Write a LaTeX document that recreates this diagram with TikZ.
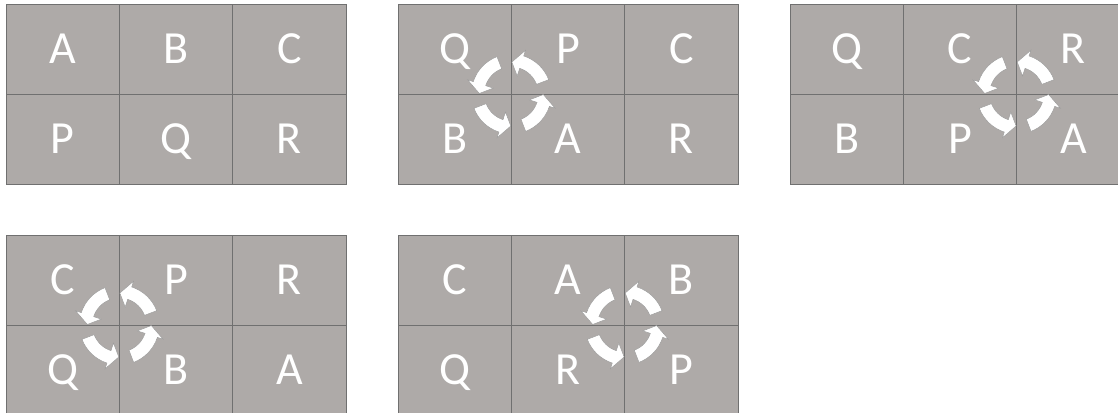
\documentclass[tikz,border=0pt]{standalone}
\usepackage{fontspec}
\setmainfont{Carlito}
\usepackage{tikz}
\usetikzlibrary{positioning,calc}
\usepackage{xcolor}
\definecolor{cellgray}{RGB}{174,170,168}
\definecolor{linegray}{RGB}{112,112,112}
\definecolor{arrowedge}{RGB}{150,150,150}

\tikzset{
  cell/.style={draw=linegray, line width=0.7pt, fill=cellgray, minimum width=113.33pt,
    minimum height=90pt, inner sep=0pt, outer sep=0pt, text=white,
    font=\fontsize{46}{50}\selectfont, text height=29.6pt, text depth=0pt},
  swaparrow/.style={fill=white, draw=arrowedge, line width=0.4pt}
}

% six cells: top row #4 #5 #6, bottom row #7 #8 #9
\newcommand{\cellgrid}[9]{%
  \node[cell, anchor=north west] (#1-1) at (#2,#3) {#4};
  \node[cell, right=0pt of #1-1] (#1-2) {#5};
  \node[cell, right=0pt of #1-2] (#1-3) {#6};
  \node[cell, below=0pt of #1-1] (#1-4) {#7};
  \node[cell, right=0pt of #1-4] (#1-5) {#8};
  \node[cell, right=0pt of #1-5] (#1-6) {#9};
}

% four curved arrows round a corner point
\newcommand{\rotarrows}[1]{%
  \begin{scope}[shift={(#1)}]
    \foreach \r in {0,90,180,270}
      \path[swaparrow, rotate=\r] (21:27pt) arc[start angle=21, end angle=72, radius=27pt]
        -- (72:19pt) -- (89:32pt) -- (72:46pt) -- (72:40pt)
        arc[start angle=72, end angle=21, radius=40pt] -- cycle;
  \end{scope}
}

\begin{document}
\begin{tikzpicture}[x=1pt, y=-1pt]
\useasboundingbox (0,0) rectangle (1118,412);
\clip (0,0) rectangle (1118,412);

\cellgrid{ga}{6}{4}{A}{B}{C}{P}{Q}{R}
\cellgrid{gb}{398}{4}{Q}{P}{C}{B}{A}{R}
\cellgrid{gc}{790}{4}{Q}{C}{R}{B}{P}{A}
\cellgrid{gd}{6}{235}{C}{P}{R}{Q}{B}{A}
\cellgrid{ge}{398}{235}{C}{A}{B}{Q}{R}{P}

\rotarrows{gb-1.south east}
\rotarrows{gc-2.south east}
\rotarrows{gd-1.south east}
\rotarrows{ge-2.south east}
\end{tikzpicture}
\end{document}
